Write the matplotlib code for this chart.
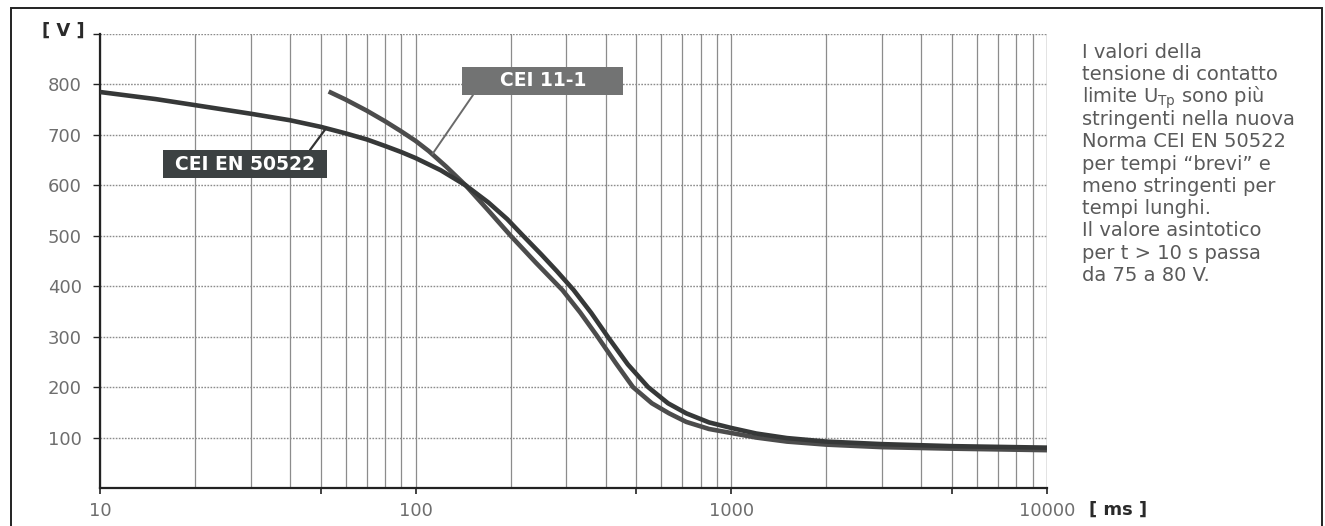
import matplotlib
matplotlib.use("Agg")
import matplotlib.pyplot as plt
from matplotlib.patches import Rectangle
from matplotlib.ticker import FixedLocator, FuncFormatter, NullFormatter

# ---------------- data ----------------
t_en = [10, 15, 20, 30, 40, 50, 60, 70, 80, 90, 100, 120, 144, 170, 195, 219, 250, 280,
        316, 360, 408, 470, 545, 630, 720, 850, 1000, 1200, 1500, 2000, 3000, 5000, 10000]
v_en = [785, 771, 759, 742, 729, 716, 703, 691, 678, 666, 654, 630, 600, 566, 533, 500, 463, 430,
        393, 347, 298, 245, 200, 168, 148, 130, 119, 108, 99, 92, 87, 83, 80]

t_cei = [53, 60, 70, 80, 90, 100, 110, 125, 144, 170, 200, 240, 292, 332, 375, 430, 488,
         560, 635, 720, 850, 1000, 1200, 1500, 2000, 3000, 5000, 10000]
v_cei = [786, 770, 748, 727, 707, 688, 668, 637, 600, 550, 500, 447, 392, 348, 302, 248, 200,
         168, 148, 131, 117, 109, 100, 92, 86, 81, 78, 75]

label_en = "CEI EN 50522"
label_cei = "CEI 11-1"
y_ticks = [100, 200, 300, 400, 500, 600, 700, 800, 900]
x_major = [10, 100, 1000, 10000]
x_marks = [10, 50, 100, 500, 1000, 5000, 10000]
note_lines = ["I valori della", "tensione di contatto",
              "limite U$_\\mathregular{Tp}$ sono più", "stringenti nella nuova",
              "Norma CEI EN 50522", "per tempi \u201cbrevi\u201d e",
              "meno stringenti per", "tempi lunghi.", "Il valore asintotico",
              "per t > 10 s passa", "da 75 a 80 V."]

# ---------------- figure ----------------
W, H = 1325, 526
plt.rcParams['font.family'] = ['DejaVu Sans']
fig = plt.figure(figsize=(W / 100, H / 100), dpi=100)

def fx(x):
    return x / W

def fy(y):
    return 1 - y / H

ax = fig.add_axes([fx(100), fy(488), fx(1047) - fx(100), fy(34) - fy(488)])
ax.set_xscale('log')
ax.set_xlim(10, 10000)
ax.set_ylim(0, 900)

grid_c = '#8c8c8c'
ax.xaxis.set_major_locator(FixedLocator(x_marks))
ax.xaxis.set_major_formatter(FuncFormatter(lambda v, p: f"{int(round(v))}" if round(v) in x_major else ""))
ax.xaxis.set_minor_locator(FixedLocator([m * 10 ** k for k in range(1, 4) for m in range(2, 10)]))
ax.xaxis.set_minor_formatter(NullFormatter())
ax.yaxis.set_major_locator(FixedLocator(y_ticks))
ax.yaxis.set_major_formatter(FuncFormatter(lambda v, p: "" if v >= 900 else f"{int(v)}"))

ax.grid(True, which='both', axis='x', color=grid_c, lw=0.9, ls='-')
ax.grid(True, which='major', axis='y', color=grid_c, lw=1.0, ls=(0, (1.2, 1.0)))
ax.tick_params(axis='x', which='major', length=4, width=1.2, color='#222222', direction='out',
               labelsize=13, labelcolor='#6e6e6e', pad=6)
ax.tick_params(axis='x', which='minor', length=0)
ax.tick_params(axis='y', which='major', length=5, width=1.0, color='#222222', direction='out',
               labelsize=13, labelcolor='#6e6e6e', pad=8)

for s in ['top', 'right']:
    ax.spines[s].set_visible(False)
for s in ['left', 'bottom']:
    ax.spines[s].set_color('#222222')
    ax.spines[s].set_linewidth(1.6)
ax.axvline(10000, color=grid_c, lw=0.9)

# ---------------- curves ----------------
ax.plot(t_cei, v_cei, color='#4c4c4c', lw=3.3, solid_capstyle='butt', solid_joinstyle='round', zorder=3)
ax.plot(t_en, v_en, color='#363838', lw=3.3, solid_capstyle='butt', solid_joinstyle='round', zorder=4)

# ---------------- callout labels ----------------
fig.patches.append(Rectangle((fx(163), fy(178)), fx(327) - fx(163), fy(150) - fy(178),
                             transform=fig.transFigure, facecolor='#3c4142', edgecolor='none', zorder=5))
fig.text(fx(245), fy(164), label_en, color='white', fontsize=13.5, fontweight='bold',
         ha='center', va='center', zorder=6)
ax.annotate('', xy=(52, 713), xycoords='data', xytext=(310, H - 150), textcoords='figure pixels',
            arrowprops=dict(arrowstyle='-', color='#333333', lw=1.6, shrinkA=0, shrinkB=0), zorder=5)

fig.patches.append(Rectangle((fx(462), fy(95)), fx(623) - fx(462), fy(67) - fy(95),
                             transform=fig.transFigure, facecolor='#727373', edgecolor='none', zorder=5))
fig.text(fx(543), fy(81), label_cei, color='white', fontsize=13.5, fontweight='bold',
         ha='center', va='center', zorder=6)
ax.annotate('', xy=(113, 662), xycoords='data', xytext=(473, H - 95), textcoords='figure pixels',
            arrowprops=dict(arrowstyle='-', color='#6a6a6a', lw=1.4, shrinkA=0, shrinkB=0), zorder=5)

# ---------------- axis unit labels ----------------
fig.text(fx(63), fy(31), "[ V ]", color='#2a2a2a', fontsize=13, fontweight='bold',
         ha='center', va='center')
fig.text(fx(1118), fy(510), "[ ms ]", color='#2a2a2a', fontsize=13, fontweight='bold',
         ha='center', va='center')

# ---------------- note text ----------------
for i, line in enumerate(note_lines):
    fig.text(fx(1082), fy(58 + i * 22.3), line, color='#5a5a5a', fontsize=14,
             ha='left', va='baseline')

# ---------------- outer frame ----------------
fig.patches.append(Rectangle((fx(11), fy(600)), fx(1322) - fx(11), fy(8) - fy(600),
                             transform=fig.transFigure, facecolor='none', edgecolor='#222222',
                             lw=1.4, zorder=0))

fig.savefig("out.png", dpi=100)
